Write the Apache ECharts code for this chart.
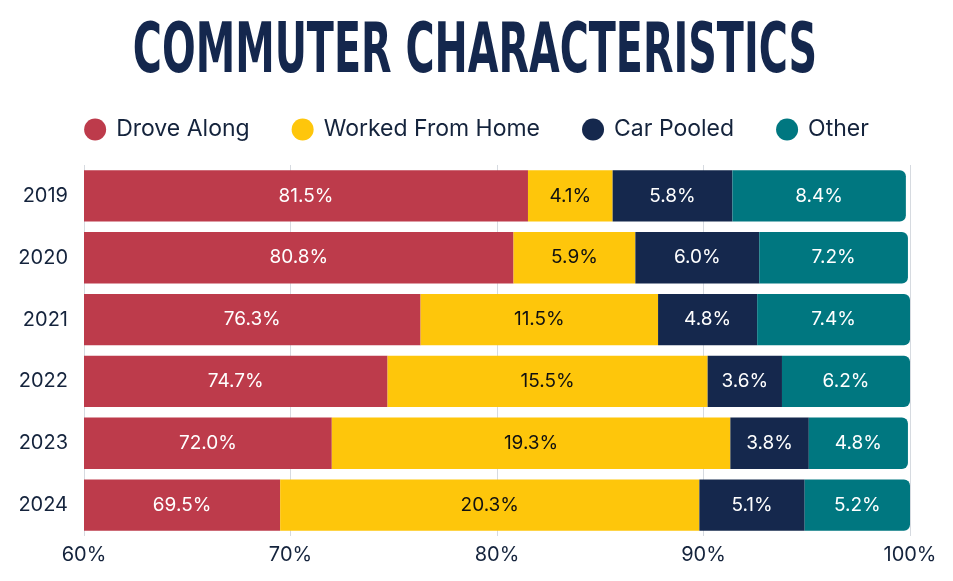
<!DOCTYPE html>
<html>
<head>
<meta charset="utf-8">
<script src="https://cdn.jsdelivr.net/npm/echarts@6/dist/echarts.min.js"></script>
<style>
    html, body { margin: 0; padding: 0; background: #ffffff; }
    #main { width: 953px; height: 581px; }
</style>
</head>
<body>
<div id="main"></div>
<script>
    // 数据
    var years = ['2019', '2020', '2021', '2022', '2023', '2024'];
    var droveAlong = [81.5, 80.8, 76.3, 74.7, 72.0, 69.5];
    var workedFromHome = [4.1, 5.9, 11.5, 15.5, 19.3, 20.3];
    var carPooled = [5.8, 6.0, 4.8, 3.6, 3.8, 5.1];
    var other = [8.4, 7.2, 7.4, 6.2, 4.8, 5.2];
    var xTicks = [60, 70, 80, 90, 100];

    var textColor = '#14233c';
    var fontName = 'Inter, "Open Sans", sans-serif';

    var makeSeries = function(name, data, color, labelColor, last) {
        return {
            name: name,
            type: 'bar',
            stack: 'total',
            data: data,
            barWidth: '83%',
            itemStyle: {
                color: color,
                borderRadius: last ? [0, 6, 6, 0] : 0
            },
            label: {
                show: true,
                position: 'inside',
                color: labelColor,
                fontFamily: fontName,
                fontSize: 19,
                formatter: function(p) {
                    return p.value.toFixed(1) + '%';
                }
            }
        };
    };

    var chart = echarts.init(document.getElementById('main'));
    chart.setOption({
        backgroundColor: '#ffffff',
        animation: false,
        graphic: [{
            type: 'text',
            x: 475,
            y: 19,
            scaleX: 0.63,
            style: {
                x: 0,
                y: 0,
                text: 'COMMUTER CHARACTERISTICS',
                fill: '#14274d',
                align: 'center',
                verticalAlign: 'top',
                font: 'bold 70px "DejaVu Sans Condensed", sans-serif'
            }
        }],
        legend: {
            left: 'center',
            top: 113,
            icon: 'circle',
            itemWidth: 22,
            itemHeight: 22,
            itemGap: 42,
            textStyle: {
                color: textColor,
                fontFamily: fontName,
                fontSize: 23,
                padding: [0, 0, 0, 5]
            },
            data: ['Drove Along', 'Worked From Home', 'Car Pooled', 'Other']
        },
        grid: {
            left: 84,
            right: 43,
            top: 165,
            bottom: 45,
            containLabel: false
        },
        xAxis: {
            type: 'value',
            min: 60,
            max: 100,
            interval: 10,
            axisLine: { show: false },
            axisTick: { show: false },
            splitLine: { lineStyle: { color: '#d6dae0', width: 1 } },
            axisLabel: {
                color: textColor,
                fontFamily: fontName,
                fontSize: 20,
                margin: 9,
                formatter: function(v) {
                    return xTicks.indexOf(v) !== -1 ? v + '%' : '';
                }
            }
        },
        yAxis: {
            type: 'category',
            data: years,
            inverse: true,
            axisLine: { show: false },
            axisTick: { show: false },
            axisLabel: {
                color: textColor,
                fontFamily: fontName,
                fontSize: 20,
                margin: 16
            }
        },
        series: [
            makeSeries('Drove Along', droveAlong, '#bd3b4b', '#ffffff', false),
            makeSeries('Worked From Home', workedFromHome, '#fec60b', '#111111', false),
            makeSeries('Car Pooled', carPooled, '#15284d', '#ffffff', false),
            makeSeries('Other', other, '#007780', '#ffffff', true)
        ]
    });
</script>
</body>
</html>
